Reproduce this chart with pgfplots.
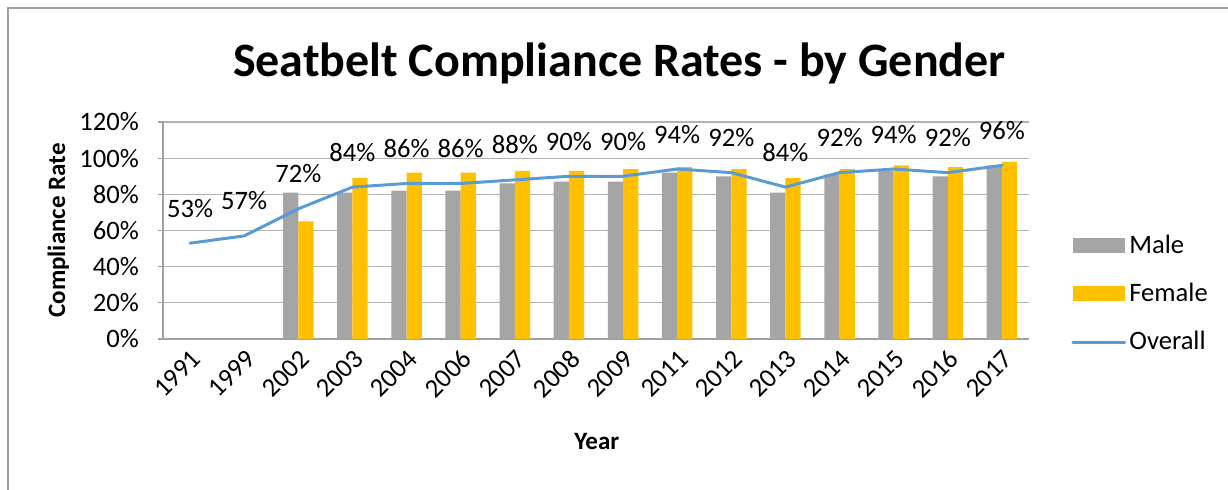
\documentclass[border=0pt]{standalone}
\usepackage{pgfplots}
\pgfplotsset{compat=1.18}
\usepackage{fontspec}
\setmainfont{Carlito}
\definecolor{male}{RGB}{165,165,165}
\definecolor{female}{RGB}{255,192,0}
\definecolor{overall}{RGB}{91,155,213}
\definecolor{gridc}{RGB}{178,178,178}
\definecolor{axisc}{RGB}{160,160,160}
\begin{document}
\begin{tikzpicture}
\useasboundingbox (0,0) rectangle (614pt,244.5pt);
\draw[axisc, line width=0.8pt] (4pt,-2pt) -- (4pt,240.5pt) -- (616pt,240.5pt);
\begin{axis}[
  scale only axis, width=433pt, height=108.5pt,
  at={(81.5pt,75pt)}, anchor=south west,
  xmin=-0.5, xmax=15.5, ymin=0, ymax=120,
  clip=false,
  /pgf/number format/assume math mode=true,
  font=\fontsize{13.3}{16}\selectfont,
  ytick={0,20,...,120},
  yticklabel={\pgfmathprintnumber{\tick}\%},
  xtick={0,...,15},
  xticklabels={1991,1999,2002,2003,2004,2006,2007,2008,2009,2011,2012,2013,2014,2015,2016,2017},
  xticklabel style={rotate=45, anchor=east, yshift=-6pt, xshift=2pt},
  yticklabel style={xshift=-6pt},
  xtick style={draw=none},
  ytick style={draw=axisc, line width=0.6pt},
  tick align=outside, major tick length=2.5pt,
  axis x line*=bottom, axis y line*=left,
  axis line style={draw=axisc, line width=0.6pt, -},
  ymajorgrids, grid style={draw=gridc, line width=0.6pt},
  title={Seatbelt Compliance Rates - by Gender},
  title style={font=\fontsize{24}{28}\selectfont\bfseries, at={(axis description cs:0.527,1)}, anchor=center, yshift=23.5pt},
  xlabel={Year}, ylabel={Compliance Rate},
  label style={font=\fontsize{12.5}{15}\selectfont\bfseries},
  xlabel style={at={(axis description cs:0.501,0)}, anchor=center, yshift=-51pt},
  ylabel style={at={(axis description cs:-0.121,0.5)}, anchor=center, rotate=0},
  legend style={draw=none, fill=none, at={(axis description cs:1.0485,0.497)}, anchor=north west, inner sep=0pt, row sep=10.5pt, nodes={inner sep=1.5pt, font=\fontsize{13.3}{16}\selectfont}},
  legend cell align=left,
]
\addplot[ybar, bar width=7.65pt, bar shift=-3.825pt, fill=male, draw=none,
  legend image code/.code={\fill[male] (0pt,-3.75pt) rectangle (26pt,3.75pt);}]
  coordinates {(2,81) (3,81) (4,82) (5,82) (6,86) (7,87) (8,87) (9,92) (10,90) (11,81) (12,91) (13,93) (14,90) (15,96)};
\addlegendentry{Male}
\addplot[ybar, bar width=7.65pt, bar shift=3.825pt, fill=female, draw=none,
  legend image code/.code={\fill[female] (0pt,-3.75pt) rectangle (26pt,3.75pt);}]
  coordinates {(2,65) (3,89) (4,92) (5,92) (6,93) (7,93) (8,94) (9,95) (10,94) (11,89) (12,94) (13,96) (14,95) (15,98)};
\addlegendentry{Female}
\addplot[overall, line width=1.5pt, line join=round, line cap=round, mark=none,
  nodes near coords={\pgfmathprintnumber{\pgfplotspointmeta}\%},
  nodes near coords style={black, anchor=base, yshift=13pt, font=\fontsize{13.3}{16}\selectfont},
  legend image code/.code={\draw[overall, line width=1.5pt, line cap=round] (0pt,0pt) -- (26pt,0pt);}]
  coordinates {(0,53) (1,57) (2,72) (3,84) (4,86) (5,86) (6,88) (7,90) (8,90) (9,94) (10,92) (11,84) (12,92) (13,94) (14,92) (15,96)};
\addlegendentry{Overall}
\end{axis}
\end{tikzpicture}
\end{document}
